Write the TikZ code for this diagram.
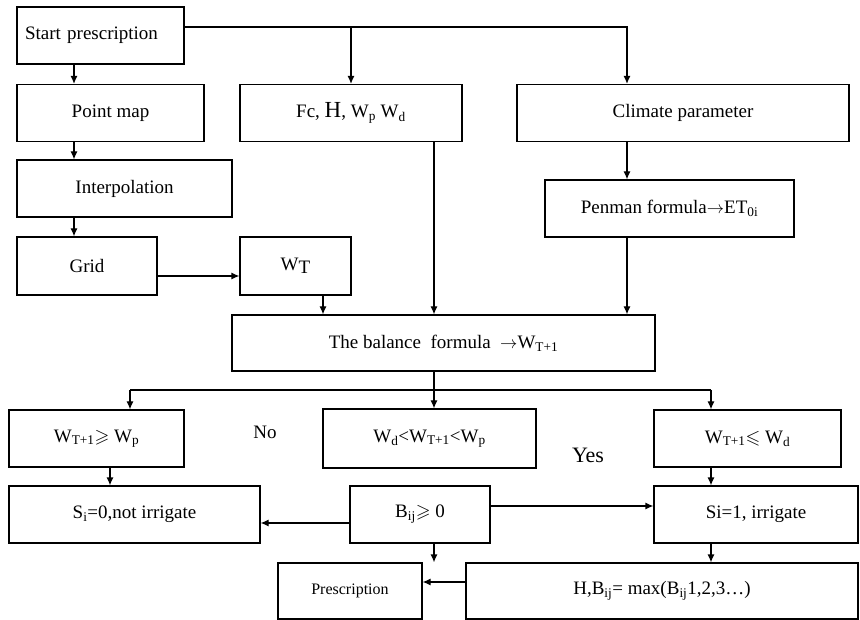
\documentclass[tikz,border=0pt]{standalone}
\usepackage{amssymb}
\usepackage{fontspec}
\setmainfont{Liberation Serif}
\usetikzlibrary{arrows.meta}

\begin{document}
\begin{tikzpicture}[x=1pt,y=-1pt,line width=1.2pt,
  box/.style={draw,minimum height=57pt,inner sep=2pt,font=\fontsize{19}{22}\selectfont},
  link/.style={-{Latex[length=8pt,width=7pt]}}]
\useasboundingbox (0,0) rectangle (860,620);

% boxes
\node[box,minimum width=167pt,text width=151pt,align=left,inner sep=8pt] (start) at (100.5,35.5) {Start prescription};
\node[box,minimum width=187pt] (pmap) at (110.5,113) {Point map};
\node[box,minimum width=222pt] (fc) at (351,113) {Fc, {\fontsize{23}{24}\selectfont H}, W\textsubscript{p} W\textsubscript{d}};
\node[box,minimum width=332pt] (climate) at (683,113) {Climate parameter};
\node[box,minimum width=215pt] (interp) at (124.5,188.5) {Interpolation};
\node[box,minimum width=140pt,minimum height=58pt] (grid) at (87,266) {Grid};
\node[box,minimum width=111pt,minimum height=58pt] (wt) at (295.5,266) {W\raisebox{-3pt}{T}};
\node[box,minimum width=249pt] (penman) at (669.5,208.5) {Penman formula$\rightarrow$ET\textsubscript{0i}};
\node[box,minimum width=423pt,minimum height=56pt] (balance) at (443.5,343) {The balance\ \ formula \ $\rightarrow$W\textsubscript{T+1}};
\node[box,minimum width=175pt] (ge) at (96.5,438.5) {W\textsubscript{T+1}$\geqslant$ W\textsubscript{p}};
\node[box,minimum width=213pt,minimum height=59pt] (mid) at (429.5,438.5) {W\textsubscript{d}<W\textsubscript{T+1}<W\textsubscript{p}};
\node[box,minimum width=187pt] (le) at (747.5,438.5) {W\textsubscript{T+1}$\leqslant$ W\textsubscript{d}};
\node[box,minimum width=251pt] (s0) at (134.5,514.5) {S\textsubscript{i}=0,not irrigate};
\node[box,minimum width=140pt] (bij) at (420,514.5) {B\textsubscript{ij}$\geqslant$ 0};
\node[box,minimum width=204pt] (s1) at (756,514.5) {Si=1, irrigate};
\node[box,minimum width=144pt,minimum height=56pt,font=\fontsize{16}{18}\selectfont] (presc) at (350,591) {Prescription};
\node[box,minimum width=392pt,minimum height=56pt] (hb) at (662,591) {H,B\textsubscript{ij}= max(B\textsubscript{ij}1,2,3\ldots)};

\node[font=\fontsize{19}{22}\selectfont] (no) at (265,432) {No};
\node[font=\fontsize{22}{24}\selectfont] (yes) at (588,455) {Yes};

% columns and rows of the connectors
\coordinate (lcol) at (74,0);
\coordinate (wcol) at (323,0);
\coordinate (mcol) at (434,0);
\coordinate (rcol) at (627,0);
\coordinate (scol) at (110,0);
\coordinate (gcol) at (130,0);
\coordinate (dcol) at (711,0);
\coordinate (toprow) at (0,27);
\coordinate (gridrow) at (0,276);
\coordinate (split) at (434,390);
\coordinate (leftrow) at (0,523);
\coordinate (rightrow) at (0,506);
\coordinate (hrow) at (0,582);

% connectors
\draw[link] (start.south -| lcol) -- (pmap.north -| lcol);
\draw[link] (pmap.south -| lcol) -- (interp.north -| lcol);
\draw[link] (interp.south -| lcol) -- (grid.north -| lcol);
\draw[link] (start.east |- toprow) -| (climate.north -| rcol);
\draw[link] (fc.north |- toprow) -- (fc.north);
\draw[link] (climate.south -| rcol) -- (penman.north -| rcol);
\draw[link] (penman.south -| rcol) -- (balance.north -| rcol);
\draw[link] (fc.south -| mcol) -- (balance.north -| mcol);
\draw[link] (grid.east |- gridrow) -- (wt.west |- gridrow);
\draw[link] (wt.south -| wcol) -- (balance.north -| wcol);
\draw (balance.south -| mcol) -- (split);
\draw (split -| gcol) -- (split -| dcol);
\foreach \col/\dest in {gcol/ge, mcol/mid, dcol/le}
  \draw[link] (split -| \col) -- (\dest.north -| \col);
\draw[link] (ge.south -| scol) -- (s0.north -| scol);
\draw[link] (le.south -| dcol) -- (s1.north -| dcol);
\draw[link] (s1.south -| dcol) -- (hb.north -| dcol);
\draw[link] (bij.west |- leftrow) -- (s0.east |- leftrow);
\draw[link] (bij.east |- rightrow) -- (s1.west |- rightrow);
\draw[link] (bij.south -| mcol) -- (presc.north -| mcol);
\draw[link] (hb.west |- hrow) -- (presc.east |- hrow);
\end{tikzpicture}
\end{document}
